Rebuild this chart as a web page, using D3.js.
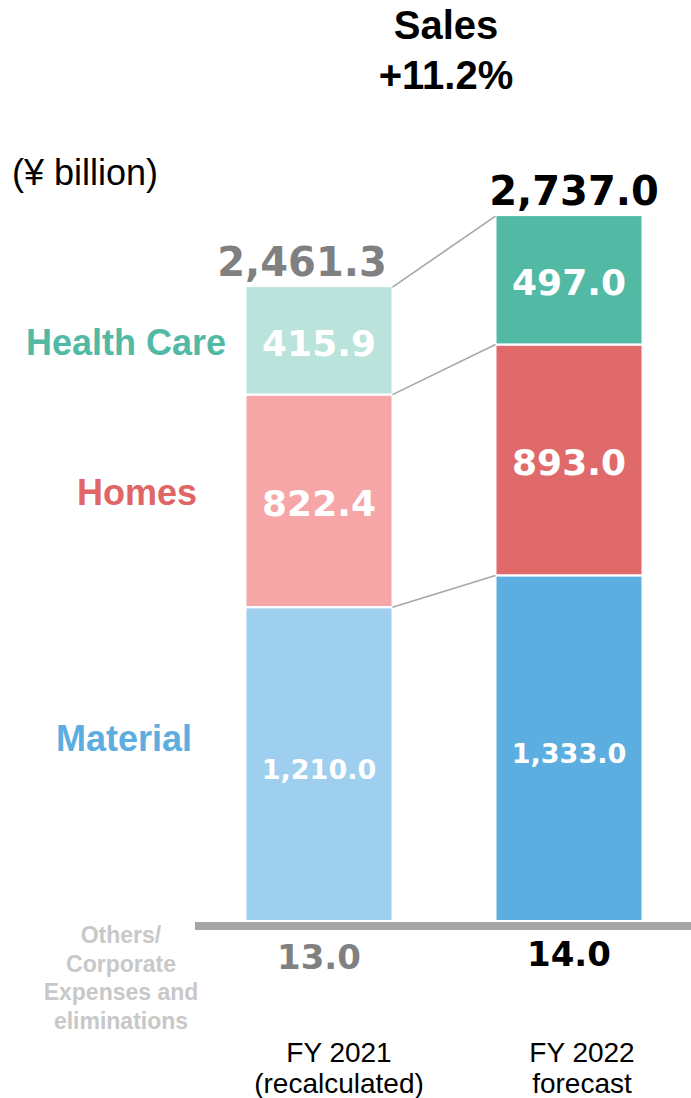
<!DOCTYPE html>
<html>
<head>
<meta charset="utf-8">
<script src="https://cdn.jsdelivr.net/npm/d3@7"></script>
<style>
  body { margin: 0; background: #fff; }
  svg { display: block; }
</style>
</head>
<body>
<div id="chart"></div>
<script>
// data
var segments = ["Material", "Homes", "Health Care"];
var years = ["FY 2021", "FY 2022"];
var yearSub = ["(recalculated)", "forecast"];
var fy2021 = [1210.0, 822.4, 415.9];
var fy2022 = [1333.0, 893.0, 497.0];
var totals = [2461.3, 2737.0];
var others = [13.0, 14.0];
var growth = "+11.2%";

function init()
{
    var w = 691;
    var h = 1098;
    var base = 920; // bottom of the bars

    var svg = d3.select("#chart")
                .append("svg")
                .attr("width", w)
                .attr("height", h);

    var xScale = d3.scaleBand()
                .domain(years)
                .range([196.5, 691.5])
                .paddingInner(0.42)
                .paddingOuter(0.2);

    var yScale = d3.scaleLinear()
                .domain([0, 2737])
                .range([base, base - 707.5]);

    var colors = {
        "FY 2021": ["#9ecfee", "#f6a6a6", "#bae3db"],
        "FY 2022": ["#5daee0", "#e0696a", "#52b9a5"]
    };
    var labelColors = ["#5dade0", "#e06666", "#52b9a5"];

    var stacks = years.map(function(y, i){
        var vals = i === 0 ? fy2021 : fy2022;
        var acc = 0;
        return vals.map(function(v, j){
            var d = {year: y, seg: j, v: v, y0: acc, y1: acc + v};
            acc += v;
            return d;
        });
    });

    // connector lines between the two bars
    var left = stacks[0], right = stacks[1];
    svg.selectAll("line.conn")
        .data(d3.range(3))
        .enter()
        .append("line")
        .attr("class", "conn")
        .attr("x1", xScale(years[0]) + xScale.bandwidth() + 1)
        .attr("x2", xScale(years[1]) - 1)
        .attr("y1", function(j){ return yScale(left[j].y1); })
        .attr("y2", function(j){ return yScale(right[j].y1); })
        .attr("stroke", "#a6a6a6")
        .attr("stroke-width", 1.6);

    // bars
    var all = stacks[0].concat(stacks[1]);
    svg.selectAll("rect.seg")
        .data(all)
        .enter()
        .append("rect")
        .attr("class", "seg")
        .attr("x", function(d){ return xScale(d.year); })
        .attr("width", xScale.bandwidth())
        .attr("y", function(d){ return yScale(d.y1) + (d.seg === 2 ? 0 : 1.2); })
        .attr("height", function(d){
            return yScale(d.y0) - yScale(d.y1) - (d.seg === 2 ? 1.2 : 2.4) + (d.seg === 0 ? 1.2 : 0);
        })
        .attr("fill", function(d){ return colors[d.year][d.seg]; });

    // values inside bars
    svg.selectAll("text.val")
        .data(all)
        .enter()
        .append("text")
        .attr("class", "val")
        .attr("x", function(d){ return xScale(d.year) + xScale.bandwidth() / 2; })
        .attr("y", function(d){ return (yScale(d.y0) + yScale(d.y1)) / 2 + 15; })
        .attr("text-anchor", "middle")
        .attr("fill", "#fff")
        .attr("font-family", "DejaVu Sans")
        .attr("font-weight", "bold")
        .attr("font-size", function(d){ return d.v >= 1000 ? 27 : 36; })
        .text(function(d){ return d3.format(",.1f")(d.v); });

    // axis line
    svg.append("line")
        .attr("x1", 195)
        .attr("x2", w)
        .attr("y1", base + 6)
        .attr("y2", base + 6)
        .attr("stroke", "#a6a6a6")
        .attr("stroke-width", 8);

    // totals above bars
    svg.selectAll("text.total")
        .data(totals)
        .enter()
        .append("text")
        .attr("x", function(d, i){ return xScale(years[i]) + xScale.bandwidth() / 2 - (i === 0 ? 17 : -5); })
        .attr("y", function(d, i){ return yScale(stacks[i][2].y1) - 11; })
        .attr("text-anchor", "middle")
        .attr("fill", function(d, i){ return i === 0 ? "#808080" : "#000"; })
        .attr("font-family", "DejaVu Sans")
        .attr("font-weight", "bold")
        .attr("font-size", 40)
        .text(function(d){ return d3.format(",.1f")(d); });

    // others values under axis
    svg.selectAll("text.other")
        .data(others)
        .enter()
        .append("text")
        .attr("x", function(d, i){ return xScale(years[i]) + xScale.bandwidth() / 2; })
        .attr("y", function(d, i){ return i === 0 ? 969 : 966; })
        .attr("text-anchor", "middle")
        .attr("fill", function(d, i){ return i === 0 ? "#808080" : "#000"; })
        .attr("font-family", "DejaVu Sans")
        .attr("font-weight", "bold")
        .attr("font-size", 34)
        .text(function(d){ return d3.format(".1f")(d); });

    // segment names to the left
    var nameDy = [-13, 4, 14];
    svg.selectAll("text.name")
        .data(segments)
        .enter()
        .append("text")
        .attr("x", function(d, j){ return [124, 137, 126][j]; })
        .attr("y", function(d, j){ return (yScale(left[j].y0) + yScale(left[j].y1)) / 2 + nameDy[j]; })
        .attr("text-anchor", "middle")
        .attr("fill", function(d, j){ return labelColors[j]; })
        .attr("font-family", "Liberation Sans, Arial")
        .attr("font-weight", "bold")
        .attr("font-size", 36)
        .text(function(d){ return d; });

    // year labels
    var yl = svg.selectAll("text.year")
        .data(years)
        .enter()
        .append("text")
        .attr("text-anchor", "middle")
        .attr("font-family", "Liberation Sans, Arial")
        .attr("font-size", 28)
        .attr("fill", "#000");
    yl.append("tspan")
        .attr("x", function(d, i){ return xScale(d) + xScale.bandwidth() / 2 + (i === 0 ? 20 : 13); })
        .attr("y", 1062)
        .text(function(d){ return d; });
    yl.append("tspan")
        .attr("x", function(d, i){ return xScale(d) + xScale.bandwidth() / 2 + (i === 0 ? 20 : 13); })
        .attr("y", 1093)
        .text(function(d, i){ return yearSub[i]; });

    // others caption
    var oc = svg.append("text")
        .attr("text-anchor", "middle")
        .attr("font-family", "Liberation Sans, Arial")
        .attr("font-weight", "bold")
        .attr("font-size", 23)
        .attr("fill", "#c8c8c8");
    ["Others/", "Corporate", "Expenses and", "eliminations"].forEach(function(t, i){
        oc.append("tspan").attr("x", 121).attr("y", 943 + i * 28.5).text(t);
    });

    // unit
    svg.append("text")
        .attr("x", 12)
        .attr("y", 185)
        .attr("font-family", "Liberation Sans, Arial")
        .attr("font-size", 36)
        .attr("fill", "#000")
        .text("(\u00a5 billion)");

    // title
    svg.append("text")
        .attr("x", 446)
        .attr("y", 39)
        .attr("text-anchor", "middle")
        .attr("font-family", "Liberation Sans, Arial")
        .attr("font-weight", "bold")
        .attr("font-size", 40)
        .text("Sales");
    svg.append("text")
        .attr("x", 446)
        .attr("y", 89)
        .attr("text-anchor", "middle")
        .attr("font-family", "Liberation Sans, Arial")
        .attr("font-weight", "bold")
        .attr("font-size", 40)
        .text(growth);
}
window.onload = init;
</script>
</body>
</html>
